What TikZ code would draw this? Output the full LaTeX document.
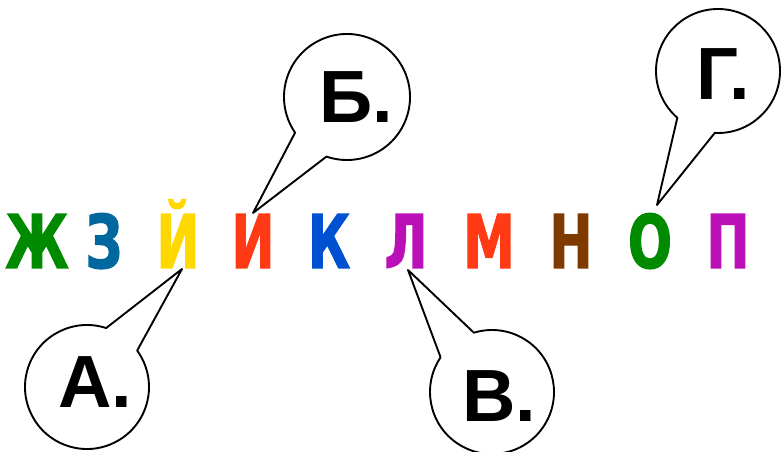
\documentclass[tikz,border=0pt]{standalone}
\usepackage{fontspec}
\usepackage{xcolor}
\usepackage{tikz}
\usetikzlibrary{calc}
\newfontfamily\cyletterfont[FakeStretch=0.7, FakeBold=1.5]{DejaVu Sans}
\newfontfamily\cylabelfont{Liberation Sans}
\definecolor{cygreen}{HTML}{008A00}
\definecolor{cyteal}{HTML}{00689E}
\definecolor{cyyellow}{HTML}{FFD800}
\definecolor{cyred}{HTML}{FF3A14}
\definecolor{cyblue}{HTML}{0050D2}
\definecolor{cymagenta}{HTML}{BB10B8}
\definecolor{cybrown}{HTML}{7F3A00}
\tikzset{
  cyletter/.style={anchor=base, inner sep=0pt,
    font=\cyletterfont\bfseries\fontsize{74}{74}\selectfont},
  cylabel/.style={anchor=base, inner sep=0pt,
    font=\cylabelfont\bfseries\fontsize{74}{74}\selectfont},
  cyballoon/.style={draw=black, line width=1.9pt, line join=round}
}

\begin{document}
\begin{tikzpicture}[x=1pt, y=1pt]
  \useasboundingbox (0,0) rectangle (781,452);
  % letter row
  \node[cyletter, text=cygreen]   (zhe) at (37,184)  {Ж};
  \node[cyletter, text=cyteal]    (ze)  at (104,184) {З};
  \node[cyletter, text=cyyellow]  (yi)  at (178,184) {Й};
  \node[cyletter, text=cyred]     (ii)  at (253,184) {И};
  \node[cyletter, text=cyblue]    (ka)  at (329,184) {К};
  \node[cyletter, text=cymagenta] (el)  at (406,184) {Л};
  \node[cyletter, text=cyred]     (em)  at (489,184) {М};
  \node[cyletter, text=cybrown]   (en)  at (571,184) {Н};
  \node[cyletter, text=cygreen]   (oo)  at (650,184) {О};
  \node[cyletter, text=cymagenta] (pe)  at (728,184) {П};
  % balloon tips
  \coordinate (tipA) at ($(yi.base)+(4,-1)$);
  \coordinate (tipB) at ($(ii.base)+(0,55)$);
  \coordinate (tipC) at ($(el.base)+(2,-2)$);
  \coordinate (tipD) at ($(oo.base)+(7,63)$);
  % balloon centres
  \coordinate (ca) at (87,65);
  \coordinate (cb) at (347,355);
  \coordinate (cc) at (492,60);
  \coordinate (cd) at (718,381);
  % balloons
  \draw[cyballoon] (tipA) -- ($(ca)+(72:62)$) arc[start angle=72, end angle=396, radius=62pt] -- cycle;
  \draw[cyballoon] (tipB) -- ($(cb)+(251:63)$) arc[start angle=251, end angle=574.5, radius=63pt] -- cycle;
  \draw[cyballoon] (tipC) -- ($(cc)+(146:62)$) arc[start angle=146, end angle=467, radius=62pt] -- cycle;
  \draw[cyballoon] (tipD) -- ($(cd)+(267:62)$) arc[start angle=267, end angle=589, radius=62pt] -- cycle;
  % labels
  \node[cylabel] (la) at (95.5,44) {А.};
  \node[cylabel] (lb) at (356,329) {Б.};
  \node[cylabel] (lc) at (499,30)  {В.};
  \node[cylabel] (ld) at (723,352) {Г.};
\end{tikzpicture}
\end{document}
